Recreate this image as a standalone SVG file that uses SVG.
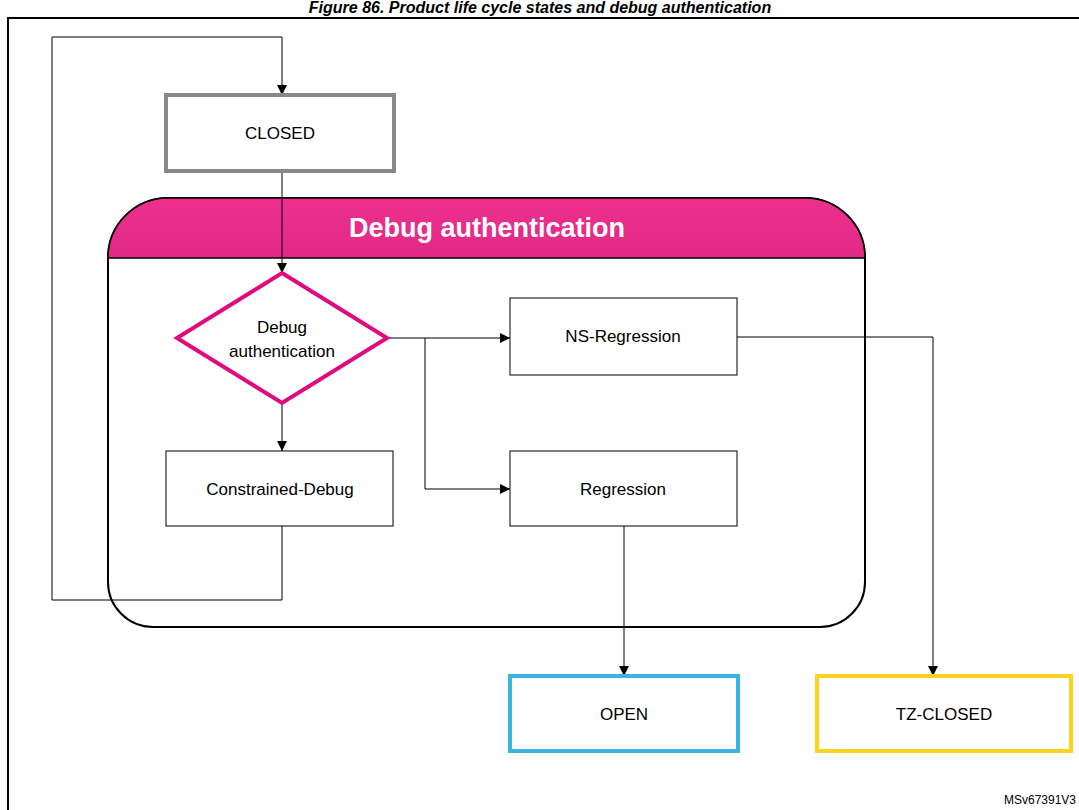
<svg xmlns="http://www.w3.org/2000/svg" width="1079" height="810" viewBox="0 0 1079 810">
<defs>
<marker id="ah" viewBox="0 0 10 10" refX="10" refY="5" markerWidth="10" markerHeight="10" markerUnits="userSpaceOnUse" orient="auto"><path d="M0,0L10,5L0,10z" fill="#000"/></marker>
<linearGradient id="pk" x1="0" y1="0" x2="0" y2="1"><stop offset="0" stop-color="#ee2f8e"/><stop offset="1" stop-color="#e02a85"/></linearGradient>
</defs>
<style>
text{font-family:"Liberation Sans",Arial,sans-serif;fill:#000}
.lbl{font-size:17px;text-anchor:middle}
.box{fill:#fff;stroke:#000;stroke-width:1}
.c{fill:none;stroke:#000;stroke-width:1;marker-end:url(#ah)}
</style>
<rect width="1079" height="810" fill="#fff"/>
<text x="540" y="13" font-size="16" font-weight="bold" font-style="italic" text-anchor="middle">Figure 86. Product life cycle states and debug authentication</text>
<rect x="8" y="18" width="1080" height="800" fill="none" stroke="#000" stroke-width="2"/>
<g id="container">
<path d="M168,198H805A60,60 0 0 1 865,258V582A45,45 0 0 1 820,627H153A45,45 0 0 1 108,582V258A60,60 0 0 1 168,198Z" fill="#fff" stroke="#000" stroke-width="2"/>
<path d="M168,198H805A60,60 0 0 1 865,258H108A60,60 0 0 1 168,198Z" fill="url(#pk)" stroke="#000" stroke-width="1.5"/>
<text x="487" y="237" font-size="27" font-weight="bold" text-anchor="middle" style="fill:#fff">Debug authentication</text>
</g>
<g id="connectors">
<polyline class="c" points="282,526 282,600 52,600 52,37 282,37 282,95"/>
<polyline class="c" points="282,171 282,273"/>
<polyline class="c" points="387,338 510,338"/>
<polyline class="c" points="425,338 425,489 510,489"/>
<polyline class="c" points="282,403 282,451"/>
<polyline class="c" points="737,337 933,337 933,676"/>
<polyline class="c" points="624,526 624,676"/>
</g>
<g id="closed"><rect x="166" y="95" width="228" height="76" fill="#fff" stroke="#888" stroke-width="4"/><text class="lbl" x="280" y="139">CLOSED</text></g>
<g id="diamond"><polygon points="282,273 387,338 282,403 177,338" fill="#fff" stroke="#e0097e" stroke-width="4"/><text class="lbl" x="282" y="333">Debug</text><text class="lbl" x="282" y="357">authentication</text></g>
<g id="ns-regression"><rect class="box" x="510" y="298" width="227" height="77"/><text class="lbl" x="623" y="342">NS-Regression</text></g>
<g id="regression"><rect class="box" x="510" y="451" width="227" height="75"/><text class="lbl" x="623" y="495">Regression</text></g>
<g id="constrained"><rect class="box" x="166" y="451" width="227" height="75"/><text class="lbl" x="280" y="495">Constrained-Debug</text></g>
<g id="open"><rect x="510" y="676" width="228" height="75" fill="#fff" stroke="#3ab4e0" stroke-width="4"/><text class="lbl" x="624" y="720">OPEN</text></g>
<g id="tz-closed"><rect x="817" y="676" width="254" height="75" fill="#fff" stroke="#ffd21e" stroke-width="4"/><text class="lbl" x="944" y="720">TZ-CLOSED</text></g>
<text x="1076" y="804" font-size="12" text-anchor="end">MSv67391V3</text>
</svg>
